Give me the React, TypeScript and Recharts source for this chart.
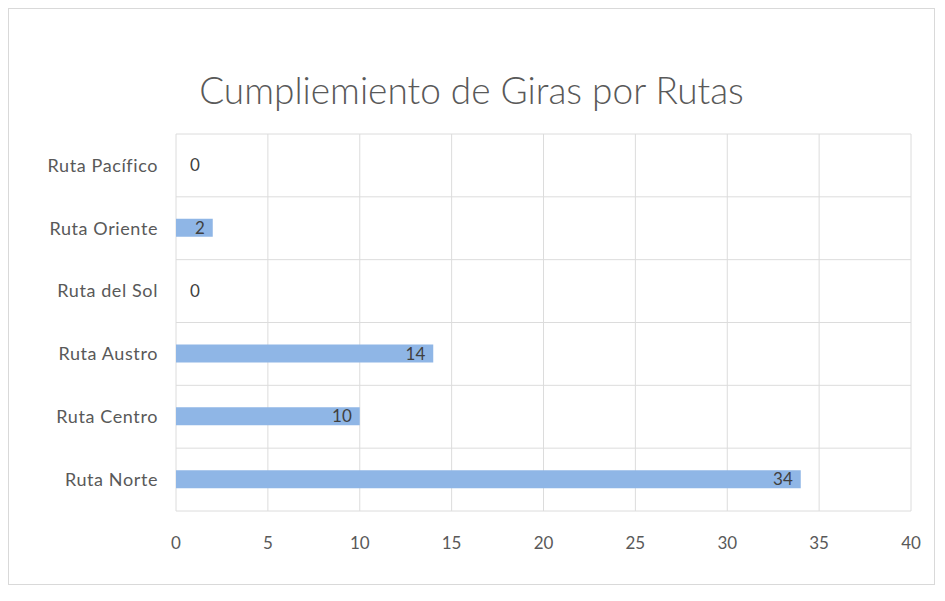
import { Bar, BarChart, CartesianGrid, Cell, LabelList, XAxis, YAxis } from "recharts";

const routes = ["Ruta Pacífico", "Ruta Oriente", "Ruta del Sol", "Ruta Austro", "Ruta Centro", "Ruta Norte"];
const giras = [0, 2, 0, 14, 10, 34];
const xTicks = [0, 5, 10, 15, 20, 25, 30, 35, 40];

const rows = routes.map((ruta, i) => ({ ruta, giras: giras[i] }));

const FONT = "Lato, 'Open Sans', sans-serif";

function ValueLabel(props: any) {
  const { x, y, width, height, value } = props;
  const cy = Number(y) + Number(height) / 2;
  if (!value) {
    return (
      <text x={Number(x) + 14} y={cy} dy={6} fill="#404040" fontSize={17} fontFamily={FONT}>
        0
      </text>
    );
  }
  return (
    <text x={Number(x) + Number(width) - 8} y={cy} dy={6} textAnchor="end" fill="#404040" fontSize={17} fontFamily={FONT}>
      {value}
    </text>
  );
}

export default function App() {
  return (
    <div
      style={{
        position: "relative",
        width: 925,
        height: 575,
        border: "1px solid #d9d9d9",
        fontFamily: FONT,
        background: "#fff",
      }}
    >
      <div
        style={{
          position: "absolute",
          top: 58,
          left: 0,
          width: "100%",
          textAlign: "center",
          fontSize: 37,
          fontWeight: 300,
          color: "#595959",
        }}
      >
        Cumpliemiento de Giras por Rutas
      </div>
      <BarChart
        width={925}
        height={575}
        data={rows}
        layout="vertical"
        margin={{ top: 125, right: 23, bottom: 43, left: 10 }}
        barSize={18}
      >
        <CartesianGrid
          stroke="#dcdcdc"
          horizontalCoordinatesGenerator={({ offset }: any) =>
            routes.map((_, i) => offset.top + (i * offset.height) / routes.length).concat(offset.top + offset.height)
          }
        />
        <XAxis
          type="number"
          domain={[0, 40]}
          ticks={xTicks}
          axisLine={false}
          tickLine={false}
          tickMargin={20}
          tick={{ fill: "#595959", fontSize: 17, fontFamily: FONT }}
        />
        <YAxis
          type="category"
          dataKey="ruta"
          width={157}
          axisLine={false}
          tickLine={false}
          tickMargin={12}
          tick={{ fill: "#595959", fontSize: 18, fontFamily: FONT, letterSpacing: 0.6 }}
        />
        <Bar
          dataKey="giras"
          fill="#8fb6e6"
          isAnimationActive={false}
          minPointSize={(v: number) => (v === 0 ? 1 : 0)}
        >
          {giras.map((g, i) => (
            <Cell key={routes[i]} fill={g === 0 ? "none" : "#8fb6e6"} />
          ))}
          <LabelList dataKey="giras" content={ValueLabel} />
        </Bar>
      </BarChart>
    </div>
  );
}
